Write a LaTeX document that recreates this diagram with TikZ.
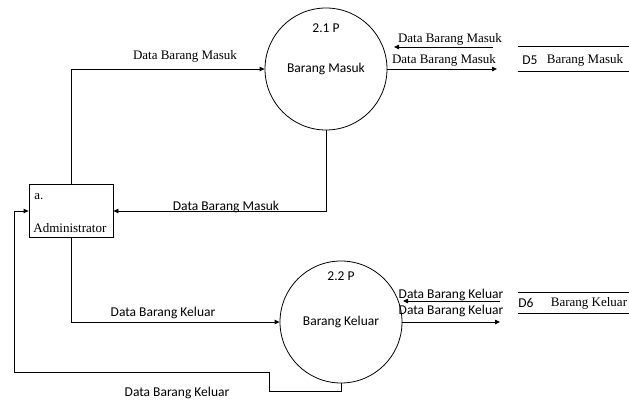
\documentclass[tikz,border=0pt]{standalone}
\usepackage{fontspec}
\setmainfont{Liberation Serif}
\newfontfamily\carlito{Carlito}
\usetikzlibrary{arrows.meta}

\begin{document}
\begin{tikzpicture}[x=1pt,y=-1pt,line width=0.8pt,>={Triangle[length=5pt,width=4.5pt]},
  proc/.style={draw,circle,minimum size=122pt,inner sep=0pt,font=\carlito\fontsize{13.5}{16}\selectfont},
  ent/.style={draw,rectangle,minimum width=84pt,minimum height=53pt},
  serif/.style={font=\fontsize{13}{15}\selectfont,inner sep=0pt},
  sans/.style={font=\carlito\fontsize{13.5}{16}\selectfont,inner sep=0pt},
  flow/.style={->}]
\useasboundingbox (0,0) rectangle (629,399);
% ---------- processes and entity ----------
\node[proc] (p21) at (326,69) {Barang Masuk};
\node[sans] (p21id) at (326,28) {2.1 P};
\node[proc] (p22) at (341,322) {Barang Keluar};
\node[sans] (p22id) at (341,276) {2.2 P};
\node[ent] (admin) at (71,211) {};
\node[serif,anchor=west] (adminid) at (34,197) {a.};
\node[serif,anchor=west] (adminname) at (33,228) {Administrator};
% ---------- data stores ----------
\node[minimum width=111pt,minimum height=24pt,inner sep=0pt] (d5) at (573.5,59) {};
\draw (d5.north west) -- (d5.north east);
\draw (d5.south west) -- (d5.south east);
\node[sans] (d5id) at (530,60) {D5};
\node[serif] (d5name) at (585,60) {Barang Masuk};
\node[minimum width=111pt,minimum height=20pt,inner sep=0pt] (d6) at (573.5,303) {};
\draw (d6.north west) -- (d6.north east);
\draw (d6.south west) -- (d6.south east);
\node[sans] (d6id) at (526,303) {D6};
\node[serif] (d6name) at (589,303) {Barang Keluar};
% ---------- flows ----------
\draw[flow] (admin.north) |- (p21.west);
\node[serif] (f1) at (185,56) {Data Barang Masuk};
\draw[flow] (p21.south) |- (admin.east);
\node[sans] (f2) at (226,207) {Data Barang Masuk};
\draw[flow] (admin.south) |- (p22.west);
\node[sans] (f3) at (163,313) {Data Barang Keluar};
\coordinate (fb1) at (269,391);
\coordinate (fb2) at (14,372);
\draw[flow] (p22.south) |- (fb1) |- (fb2) |- (admin.west);
\node[sans] (f4) at (177,393) {Data Barang Keluar};
% store D5
\coordinate (d5a) at (493,47);
\coordinate (d5b) at (394,47);
\coordinate (d5c) at (497,69);
\draw[flow] (d5a) -- (d5b);
\node[serif] (f5) at (450,39) {Data Barang Masuk};
\draw[flow] (p21.east) -- (d5c);
\node[serif] (f6) at (444,60) {Data Barang Masuk};
% store D6
\coordinate (d6a) at (500,301);
\coordinate (d6b) at (403,301);
\coordinate (d6c) at (500,322);
\draw[flow] (d6a) -- (d6b);
\node[sans] (f7) at (451,295) {Data Barang Keluar};
\draw[flow] (p22.east) -- (d6c);
\node[sans] (f8) at (451,311) {Data Barang Keluar};
\end{tikzpicture}
\end{document}
